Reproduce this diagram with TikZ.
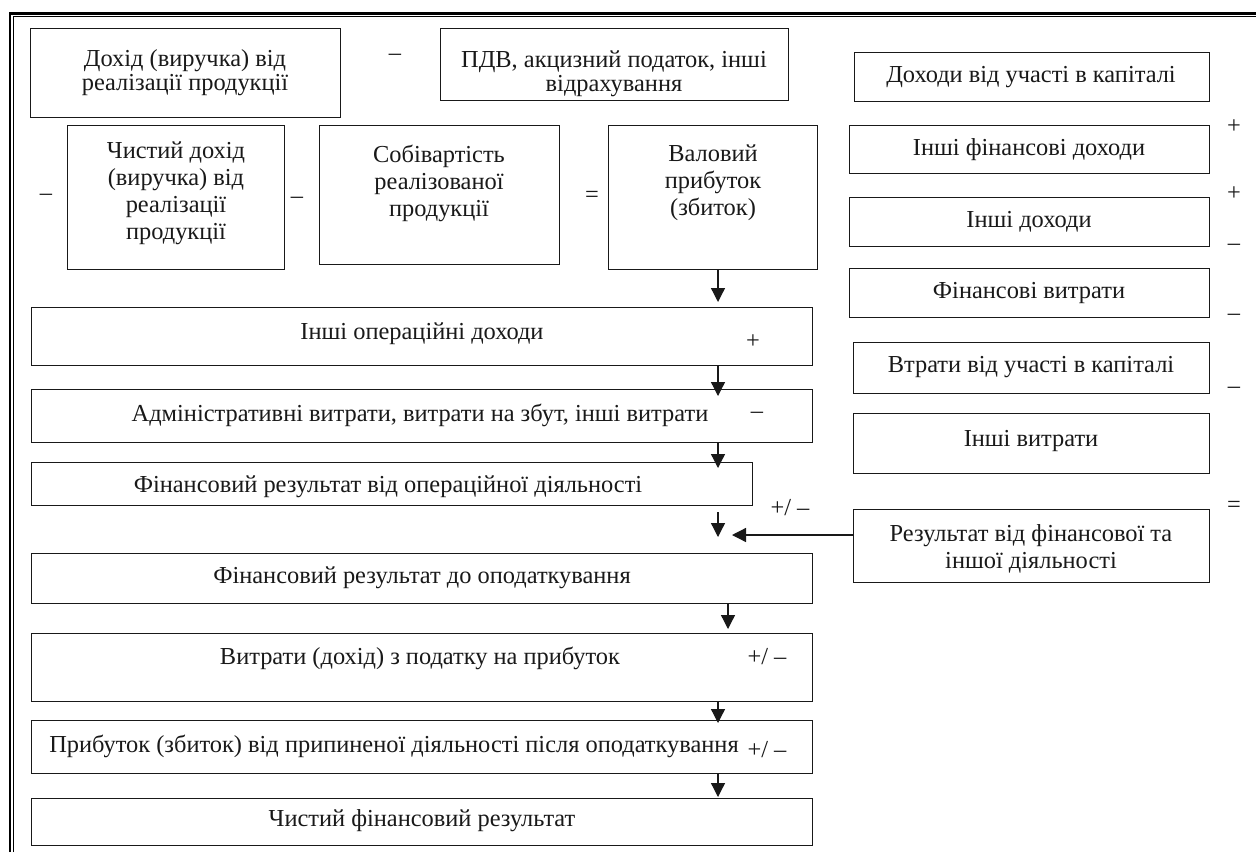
\documentclass[tikz,border=0pt]{standalone}
\usepackage{fontspec}
\setmainfont{Liberation Serif}
\usetikzlibrary{arrows.meta}
\definecolor{ink}{RGB}{25,25,25}
\begin{document}
\begin{tikzpicture}[x=1pt,y=-1pt,
  box/.style={draw=ink, line width=1.3pt, inner sep=0pt, anchor=north west},
  txt/.style={text=ink, align=center, inner sep=0pt, font=\fontsize{24.4}{27}\selectfont},
  txtA/.style={txt, font=\fontsize{24.4}{24}\selectfont},
  sign/.style={text=ink, inner sep=0pt, font=\fontsize{24.4}{27}\selectfont},
  arr/.style={draw=ink, line width=1.3pt, -{Triangle[width=14pt,length=14pt]}}]
\useasboundingbox[fill=white] (0,0) rectangle (1256,852);
% page frame
\draw[line width=2.6pt] (9.8,852) -- (9.8,13.5) -- (1256,13.5);
\draw[line width=1.2pt] (13.3,852) -- (13.3,16.3) -- (1256,16.3);
% top row
\node[box, minimum width=310pt, minimum height=89pt] (dohid) at (30,28) {};
\node[txtA] (dohidt) at (185,73) {Дохід (виручка) від\\реалізації продукції};
\node[sign] (m1) at (395,57) {–};
\node[box, minimum width=348pt, minimum height=72pt] (pdv) at (440,28) {};
\node[txtA] (pdvt) at (614,74) {ПДВ, акцизний податок, інші\\відрахування};
% second row
\node[sign] (m2) at (46,197) {–};
\node[box, minimum width=217pt, minimum height=144pt] (chd) at (67,125) {};
\node[txt] (chdt) at (176,193) {Чистий дохід\\(виручка) від\\реалізації\\продукції};
\node[sign] (m3) at (297,200) {–};
\node[box, minimum width=240pt, minimum height=139pt] (sob) at (319,125) {};
\node[txt] (sobt) at (439,183) {Собівартість\\реалізованої\\продукції};
\node[sign] (eq1) at (592,197) {=};
\node[box, minimum width=209pt, minimum height=144pt] (val) at (608,125) {};
\node[txt] (valt) at (713,183) {Валовий\\прибуток\\(збиток)};
% right column
\node[box, minimum width=355pt, minimum height=49pt] (r1) at (854,52) {};
\node[txt] (r1t) at (1031,77) {Доходи від участі в капіталі};
\node[sign] (s1) at (1234,127) {+};
\node[box, minimum width=360pt, minimum height=48pt] (r2) at (849,125) {};
\node[txt] (r2t) at (1029,150) {Інші фінансові доходи};
\node[sign] (s2) at (1234,194) {+};
\node[box, minimum width=360pt, minimum height=49pt] (r3) at (849,197) {};
\node[txt] (r3t) at (1029,222) {Інші доходи};
\node[sign] (s3) at (1234,247) {–};
\node[box, minimum width=360pt, minimum height=49pt] (r4) at (849,268) {};
\node[txt] (r4t) at (1029,293) {Фінансові витрати};
\node[sign] (s4) at (1234,317) {–};
\node[box, minimum width=356pt, minimum height=51pt] (r5) at (853,342) {};
\node[txt] (r5t) at (1031,367) {Втрати від участі в капіталі};
\node[sign] (s5) at (1234,390) {–};
\node[box, minimum width=356pt, minimum height=60pt] (r6) at (853,413) {};
\node[txt] (r6t) at (1031,441) {Інші витрати};
\node[sign] (s6) at (1234,507) {=};
\node[box, minimum width=356pt, minimum height=73pt] (rez) at (853,509) {};
\node[txt] (rezt) at (1031,549) {Результат від фінансової та\\іншої діяльності};
% left column
\node[box, minimum width=781pt, minimum height=58pt] (oper) at (31,307) {};
\node[txt] (opert) at (422,334) {Інші операційні доходи};
\node[sign] (p1) at (753,342) {+};
\node[box, minimum width=781pt, minimum height=53pt] (adm) at (31,389) {};
\node[txt] (admt) at (420,415) {Адміністративні витрати, витрати на збут, інші витрати};
\node[sign] (p2) at (757,415) {–};
\node[box, minimum width=721pt, minimum height=43pt] (fop) at (31,462) {};
\node[txt] (fopt) at (388,487) {Фінансовий результат від операційної діяльності};
\node[sign] (p3) at (790,508) {+/ –};
\node[box, minimum width=781pt, minimum height=50pt] (fdo) at (31,553) {};
\node[txt] (fdot) at (422,578) {Фінансовий результат до оподаткування};
\node[box, minimum width=781pt, minimum height=68pt] (vpod) at (31,633) {};
\node[txt] (vpodt) at (420,658) {Витрати (дохід) з податку на прибуток};
\node[sign] (p4) at (767,657) {+/ –};
\node[box, minimum width=781pt, minimum height=53pt] (prip) at (31,720) {};
\node[txt] (pript) at (394,746) {Прибуток (збиток) від припиненої діяльності після оподаткування};
\node[sign] (p5) at (767,750) {+/ –};
\node[box, minimum width=781pt, minimum height=47pt] (chfr) at (31,798) {};
\node[txt] (chfrt) at (422,821) {Чистий фінансовий результат};
% arrow tips
\coordinate (t1) at (718,302);
\coordinate (t2) at (718,396);
\coordinate (t3) at (718,468);
\coordinate (t4) at (718,537);
\coordinate (t5) at (732,535);
\coordinate (t6) at (728,629);
\coordinate (t7) at (718,723);
\coordinate (t8) at (718,797);
\draw[arr] (val.south -| t1) -- (t1);
\draw[arr] (oper.south -| t2) -- (t2);
\draw[arr] (adm.south -| t3) -- (t3);
\draw[arr] ([yshift=-6pt]fop.south -| t4) -- (t4);
\draw[arr] (rez.west |- t5) -- (t5);
\draw[arr] (fdo.south -| t6) -- (t6);
\draw[arr] (vpod.south -| t7) -- (t7);
\draw[arr] (prip.south -| t8) -- (t8);
\end{tikzpicture}
\end{document}
